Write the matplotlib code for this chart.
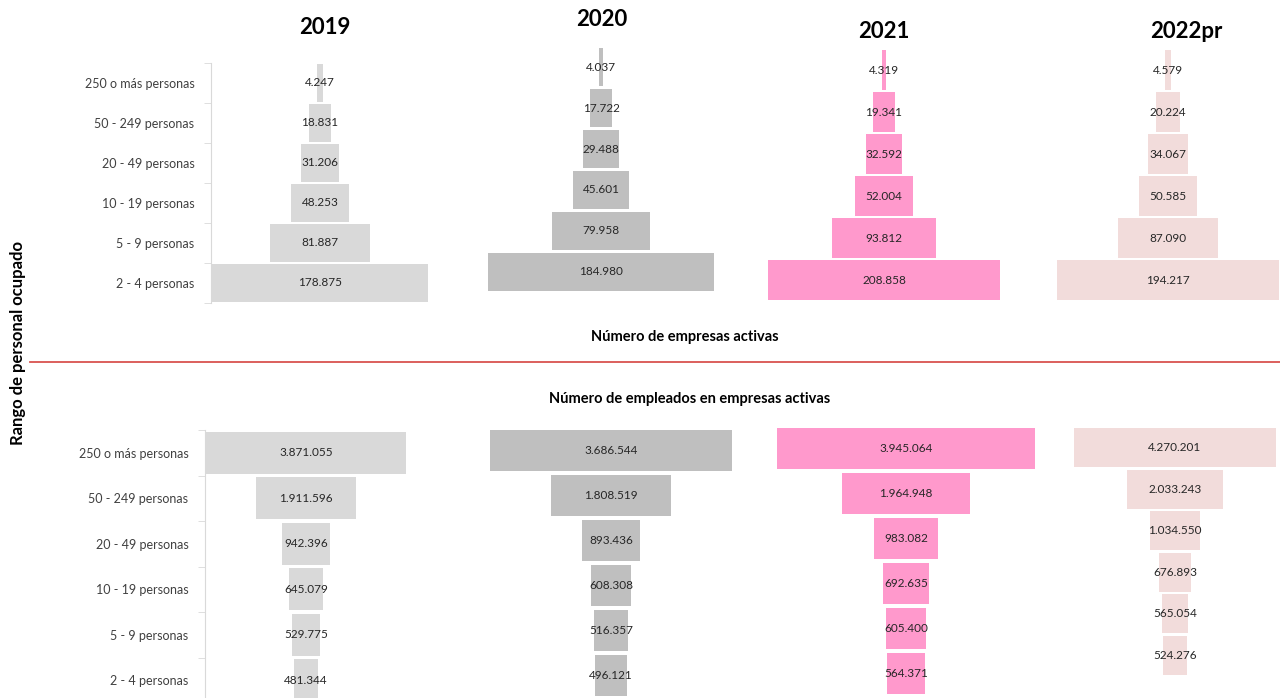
import numpy as np
import matplotlib.pyplot as plt

plt.rcParams['font.family'] = ['Lato', 'DejaVu Sans']

rangos = ["250 o más personas", "50 - 249 personas", "20 - 49 personas",
          "10 - 19 personas", "5 - 9 personas", "2 - 4 personas"]
anios = ["2019", "2020", "2021", "2022pr"]
colores = ["#d9d9d9", "#bfbfbf", "#ff99cc", "#f2dcdb"]

empresas_2019 = [4247, 18831, 31206, 48253, 81887, 178875]
empresas_2020 = [4037, 17722, 29488, 45601, 79958, 184980]
empresas_2021 = [4319, 19341, 32592, 52004, 93812, 208858]
empresas_2022 = [4579, 20224, 34067, 50585, 87090, 194217]

empleados_2019 = [3871055, 1911596, 942396, 645079, 529775, 481344]
empleados_2020 = [3686544, 1808519, 893436, 608308, 516357, 496121]
empleados_2021 = [3945064, 1964948, 983082, 692635, 605400, 564371]
empleados_2022 = [4270201, 2033243, 1034550, 676893, 565054, 524276]

empresas = [empresas_2019, empresas_2020, empresas_2021, empresas_2022]
empleados = [empleados_2019, empleados_2020, empleados_2021, empleados_2022]

W, H = 1280, 698
fig = plt.figure(figsize=(W / 100, H / 100), dpi=100)

# panel boxes in pixels: center x, top y, width, height
cajas_sup = [(320, 63, 218, 240), (601, 47, 228, 245),
             (884, 49, 234, 252), (1168, 49, 224, 252)]
cajas_inf = [(306, 430, 202, 273), (611, 428, 244, 270),
             (906, 426, 260, 270), (1175, 427, 204, 249)]


def fmt(v):
    return f"{v:,}".replace(",", ".")


def panel(caja, valores, color, con_eje):
    cx, top, w, h = caja
    ax = fig.add_axes([(cx - w / 2) / W, 1 - (top + h) / H, w / W, h / H])
    y = np.arange(len(valores))
    v = np.array(valores)
    ax.barh(y, v, left=-v / 2, height=0.93, color=color)
    m = v.max() / 2
    ax.set_xlim(-m * 1.005, m * 1.005)
    ax.set_ylim(len(valores) - 0.5, -0.5)
    for yi, vi in zip(y, v):
        ax.text(0, yi, fmt(vi), ha="center", va="center", fontsize=8.5,
                color="#262626")
    ax.set_xticks([])
    for s in ["top", "right", "bottom"]:
        ax.spines[s].set_visible(False)
    if con_eje:
        ax.spines["left"].set_color("#d9d9d9")
        ax.set_yticks(y)
        ax.set_yticklabels(rangos, fontsize=9, color="#404040")
        ax.tick_params(axis="y", which="major", length=0, pad=12)
        ax.set_yticks(np.arange(len(valores) + 1) - 0.5, minor=True)
        ax.tick_params(axis="y", which="minor", length=5, color="#d9d9d9")
    else:
        ax.spines["left"].set_visible(False)
        ax.set_yticks([])
    ax.patch.set_alpha(0)
    return ax


for i in range(4):
    panel(cajas_sup[i], empresas[i], colores[i], i == 0)
    panel(cajas_inf[i], empleados[i], colores[i], i == 0)

pos_anios = [(325, 28), (602, 20), (884, 32), (1186, 32)]
for a, (x, y) in zip(anios, pos_anios):
    fig.text(x / W, 1 - y / H, a, ha="center", va="center", fontsize=16,
             fontweight="bold")

fig.text(685 / W, 1 - 337 / H, "Número de empresas activas", ha="center",
         va="center", fontsize=10.5, fontweight="bold")
fig.text(690 / W, 1 - 399 / H, "Número de empleados en empresas activas",
         ha="center", va="center", fontsize=10.5, fontweight="bold")
fig.text(18 / W, 1 - 343 / H, "Rango de personal ocupado", ha="center",
         va="center", rotation=90, fontsize=12, fontweight="bold")

fig.add_artist(plt.Line2D([30 / W, 1.0], [1 - 362 / H, 1 - 362 / H],
                          color="#d9534f", linewidth=1.3))

fig.savefig("out.png", dpi=100)
